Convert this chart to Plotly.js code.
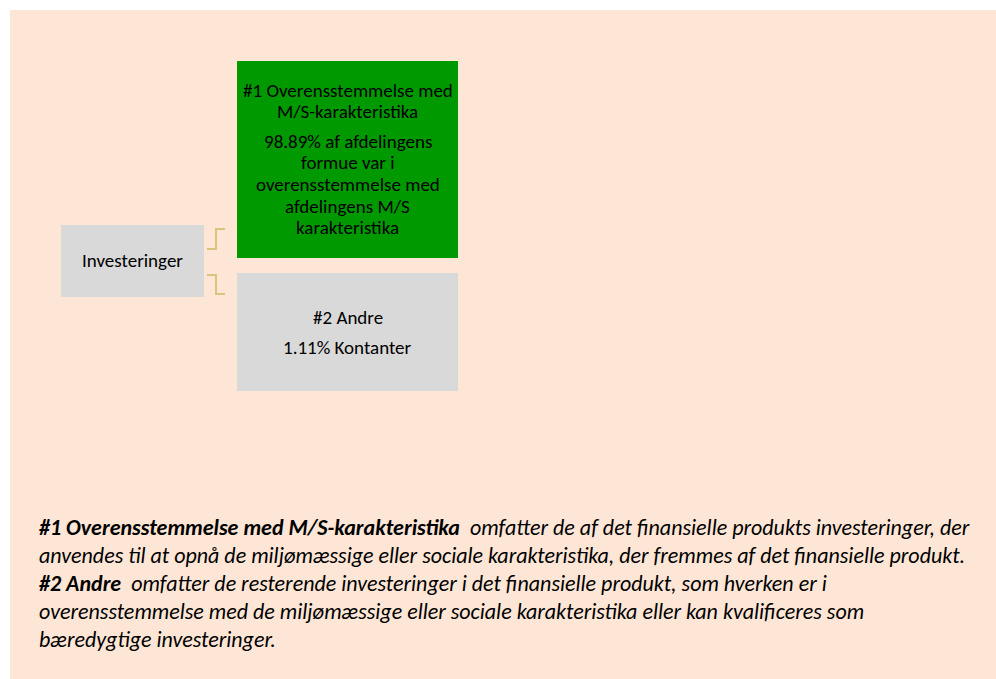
<!DOCTYPE html>
<html>
<head>
<meta charset="utf-8">
<script src="https://cdn.plot.ly/plotly-3.0.1.min.js"></script>
<style>
  html, body { margin: 0; padding: 0; background: #ffffff; }
  #chart { width: 996px; height: 679px; }
</style>
</head>
<body>
<div id="chart"></div>
<script>
// Asset allocation diagram data
const rootLabel = 'Investeringer';
const categoryLabels = ['#1 Overensstemmelse med<br>M/S-karakteristika', '#2 Andre'];
const shares = [98.89, 1.11];
const shareTexts = [
    '% af afdelingens<br>formue var i<br>overensstemmelse med<br>afdelingens M/S<br>karakteristika',
    '% Kontanter'
];
const footnoteTitles = ['#1 Overensstemmelse med M/S-karakteristika', '#2 Andre'];
const footnoteLines = [
    ['omfatter de af det finansielle produkts investeringer, der',
     'anvendes til at opnå de miljømæssige eller sociale karakteristika, der fremmes af det finansielle produkt.'],
    ['omfatter de resterende investeringer i det finansielle produkt, som hverken er i',
     'overensstemmelse med de miljømæssige eller sociale karakteristika eller kan kvalificeres som',
     'bæredygtige investeringer.']
];

// Styling / geometry (pixels of the 996x679 canvas)
const FONT = 'Carlito, Calibri, Lato, "Open Sans", sans-serif';
const panelColor = '#fde6d5';
const boxColors = ['#009900', '#d9d9d9'];
const rootColor = '#d9d9d9';
const connectorColor = '#d8c47c';
const BOX_FONT = 19;
const NOTE_FONT = 22;
const BOX_LINE = 21.7;

const rootBox = { x0: 61, x1: 204, y0: 225, y1: 297 };
const catBoxes = [
    { x0: 237, x1: 458, y0: 61, y1: 258 },
    { x0: 237, x1: 458, y0: 273, y1: 391 }
];

const shapes = [
    { type: 'rect', xref: 'x', yref: 'y', x0: 10, x1: 996, y0: 10, y1: 679,
      fillcolor: panelColor, line: { width: 0 }, layer: 'below' },
    { type: 'rect', xref: 'x', yref: 'y', x0: rootBox.x0, x1: rootBox.x1, y0: rootBox.y0, y1: rootBox.y1,
      fillcolor: rootColor, line: { width: 0 } }
];
catBoxes.forEach((b, i) => {
    shapes.push({ type: 'rect', xref: 'x', yref: 'y', x0: b.x0, x1: b.x1, y0: b.y0, y1: b.y1,
                  fillcolor: boxColors[i], line: { width: 0 } });
});
// elbow connectors
shapes.push({ type: 'path', xref: 'x', yref: 'y', path: 'M207,249 H216 V229 H225',
              line: { color: connectorColor, width: 2 } });
shapes.push({ type: 'path', xref: 'x', yref: 'y', path: 'M207,275 H216 V294 H225',
              line: { color: connectorColor, width: 2 } });

const annotations = [];
function addText(text, x, y, opts) {
    annotations.push(Object.assign({
        text: text, x: x, y: y, xref: 'x', yref: 'y',
        showarrow: false, xanchor: 'center', yanchor: 'middle', align: 'center',
        font: { family: FONT, size: BOX_FONT, color: '#000000' }
    }, opts || {}));
}
// one annotation per line so line spacing can be tight
function addBlock(text, x, yFirst) {
    text.split('<br>').forEach((ln, i) => addText(ln, x, yFirst + i * BOX_LINE));
}

addText(rootLabel, (rootBox.x0 + rootBox.x1) / 2, 260);
const cx = (catBoxes[0].x0 + catBoxes[0].x1) / 2;
addBlock(categoryLabels[0], cx, 90);
addBlock(shares[0].toFixed(2) + shareTexts[0], cx, 141);
addBlock(categoryLabels[1], cx, 317);
addBlock(shares[1].toFixed(2) + shareTexts[1], cx, 347);

// footnote, one annotation per line
const lineYs = [527, 555, 583, 611, 639];
let k = 0;
footnoteLines.forEach((lines, i) => {
    lines.forEach((ln, j) => {
        let t = '<i>' + ln + '</i>';
        if (j === 0) t = '<b><i>' + footnoteTitles[i] + '</i></b>&nbsp;&nbsp;' + t;
        addText(t, 37, lineYs[k], { xanchor: 'left', align: 'left',
                                    font: { family: FONT, size: NOTE_FONT, color: '#000000' } });
        k++;
    });
});

const layout = {
    width: 996,
    height: 679,
    margin: { l: 0, r: 0, t: 0, b: 0, pad: 0 },
    paper_bgcolor: '#ffffff',
    plot_bgcolor: 'rgba(0,0,0,0)',
    showlegend: false,
    xaxis: { range: [0, 996], visible: false, fixedrange: true },
    yaxis: { range: [679, 0], visible: false, fixedrange: true },
    shapes: shapes,
    annotations: annotations
};

Plotly.newPlot('chart', [], layout, { displayModeBar: false, staticPlot: true });
</script>
</body>
</html>
